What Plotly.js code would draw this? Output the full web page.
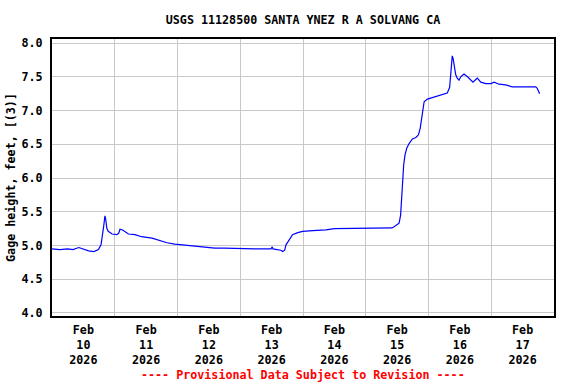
<!DOCTYPE html>
<html>
<head>
<meta charset="utf-8">
<script src="https://cdn.plot.ly/plotly-3.0.1.min.js"></script>
<style>html,body{margin:0;padding:0;background:#fff;}#chart{width:576px;height:384px;}</style>
</head>
<body>
<div id="chart"></div>
<script>
var times = [
  "2026-02-10 00:00","2026-02-10 03:00","2026-02-10 06:00","2026-02-10 08:00","2026-02-10 10:15",
  "2026-02-10 11:30","2026-02-10 12:45","2026-02-10 14:00","2026-02-10 16:00","2026-02-10 17:45",
  "2026-02-10 18:45","2026-02-10 19:15","2026-02-10 19:45","2026-02-10 20:15","2026-02-10 20:30",
  "2026-02-10 21:00","2026-02-10 21:30","2026-02-10 23:00","2026-02-11 00:45","2026-02-11 01:30",
  "2026-02-11 02:00","2026-02-11 03:00","2026-02-11 04:00","2026-02-11 05:15","2026-02-11 07:45",
  "2026-02-11 10:15","2026-02-11 14:15","2026-02-11 16:45","2026-02-11 20:00","2026-02-11 23:00",
  "2026-02-12 01:30","2026-02-12 04:00","2026-02-12 09:00","2026-02-12 14:15","2026-02-12 18:00",
  "2026-02-13 00:30","2026-02-13 05:30","2026-02-13 11:45","2026-02-13 12:15","2026-02-13 12:30",
  "2026-02-13 15:30","2026-02-13 16:15","2026-02-13 17:00","2026-02-13 17:30","2026-02-13 18:45",
  "2026-02-13 20:00","2026-02-13 22:00","2026-02-13 23:55","2026-02-14 03:45","2026-02-14 08:45",
  "2026-02-14 12:00","2026-02-14 22:45","2026-02-15 10:00","2026-02-15 11:00","2026-02-15 12:45",
  "2026-02-15 13:20","2026-02-15 13:40","2026-02-15 14:05","2026-02-15 14:30","2026-02-15 15:00",
  "2026-02-15 15:40","2026-02-15 16:35","2026-02-15 17:50","2026-02-15 19:10","2026-02-15 20:10",
  "2026-02-15 20:50","2026-02-15 21:20","2026-02-15 21:45","2026-02-15 22:20","2026-02-15 23:35",
  "2026-02-16 01:30","2026-02-16 04:05","2026-02-16 06:00","2026-02-16 07:10","2026-02-16 08:05",
  "2026-02-16 08:30","2026-02-16 08:50","2026-02-16 09:05","2026-02-16 09:25","2026-02-16 09:50",
  "2026-02-16 10:25","2026-02-16 11:00","2026-02-16 11:40","2026-02-16 12:20","2026-02-16 13:35",
  "2026-02-16 14:55","2026-02-16 16:10","2026-02-16 17:00","2026-02-16 18:05","2026-02-16 18:40",
  "2026-02-16 20:00","2026-02-16 21:55","2026-02-16 23:50","2026-02-17 01:05","2026-02-17 03:00",
  "2026-02-17 05:30","2026-02-17 08:00","2026-02-17 10:35","2026-02-17 13:05","2026-02-17 15:40",
  "2026-02-17 17:00","2026-02-17 17:35","2026-02-17 18:30"
];
var gageHeight = [
  4.95,4.94,4.95,4.94,4.97,
  4.95,4.93,4.92,4.91,4.94,
  5.01,5.13,5.28,5.44,5.40,
  5.25,5.21,5.17,5.16,5.18,
  5.24,5.23,5.20,5.17,5.16,
  5.13,5.11,5.08,5.04,5.02,
  5.01,5.00,4.98,4.96,4.96,
  4.95,4.95,4.95,4.98,4.95,
  4.93,4.91,4.93,5.01,5.09,
  5.16,5.19,5.21,5.22,5.23,
  5.25,5.25,5.26,5.28,5.33,
  5.45,5.65,6.00,6.19,6.34,
  6.44,6.51,6.58,6.60,6.64,
  6.74,6.88,7.03,7.13,7.17,
  7.19,7.22,7.24,7.26,7.34,
  7.53,7.80,7.81,7.77,7.63,
  7.53,7.48,7.45,7.50,7.54,
  7.50,7.45,7.42,7.46,7.48,
  7.42,7.40,7.40,7.42,7.39,
  7.38,7.35,7.35,7.35,7.35,
  7.35,7.33,7.25
];
var xRange = ["2026-02-10 00:00","2026-02-18 00:00"];
var yRange = [3.955, 8.06];
var titleText = "USGS 11128500 SANTA YNEZ R A SOLVANG CA";
var yTitle = "Gage height, feet, [(3)]";
var footer = "---- Provisional Data Subject to Revision ----";

var font = "DejaVu Sans Mono, Liberation Mono, monospace";
var fs = 11.7;

var trace = {
  x: times, y: gageHeight, type: "scatter", mode: "lines",
  line: {color: "#0000ff", width: 1.2, shape: "linear"},
  hoverinfo: "skip"
};

var layout = {
  width: 576, height: 384,
  margin: {l: 52, r: 22, t: 39, b: 68, pad: 0},
  paper_bgcolor: "#ffffff", plot_bgcolor: "#ffffff",
  showlegend: false,
  font: {family: font, size: fs, color: "#000000", weight: "bold"},
  title: {text: titleText, font: {family: font, size: fs, color: "#000000", weight: "bold"},
          x: 0.5, xanchor: "center", y: 1 - 20/384, yanchor: "middle", xref: "paper", yref: "container"},
  xaxis: {
    type: "date", range: xRange, dtick: 86400000, tick0: "2026-02-10",
    ticklabelmode: "period", tickformat: "%b<br>%d<br>%Y",
    showgrid: true, gridcolor: "#c8c8c8", gridwidth: 1,
    ticks: "", showline: true, linecolor: "#000000", linewidth: 2, mirror: true,
    zeroline: false, ticklabelstandoff: 2,
    tickfont: {family: font, size: fs, color: "#000000", weight: "bold"}
  },
  yaxis: {
    range: yRange, tick0: 4, dtick: 0.5, tickformat: ".1f",
    showgrid: true, gridcolor: "#c8c8c8", gridwidth: 1,
    ticks: "", showline: true, linecolor: "#000000", linewidth: 2, mirror: true,
    zeroline: false, ticklabelstandoff: 5,
    tickfont: {family: font, size: fs, color: "#000000", weight: "bold"},
    title: {text: yTitle, standoff: 3, font: {family: font, size: fs, color: "#000000", weight: "bold"}}
  },
  annotations: [{
    text: footer, xref: "paper", yref: "paper", x: 0.5, y: (316 - 375) / 277,
    xanchor: "center", yanchor: "middle", showarrow: false,
    font: {family: font, size: fs, color: "#ff0000", weight: "bold"}
  }]
};

Plotly.newPlot("chart", [trace], layout, {displayModeBar: false, staticPlot: true});
</script>
</body>
</html>
